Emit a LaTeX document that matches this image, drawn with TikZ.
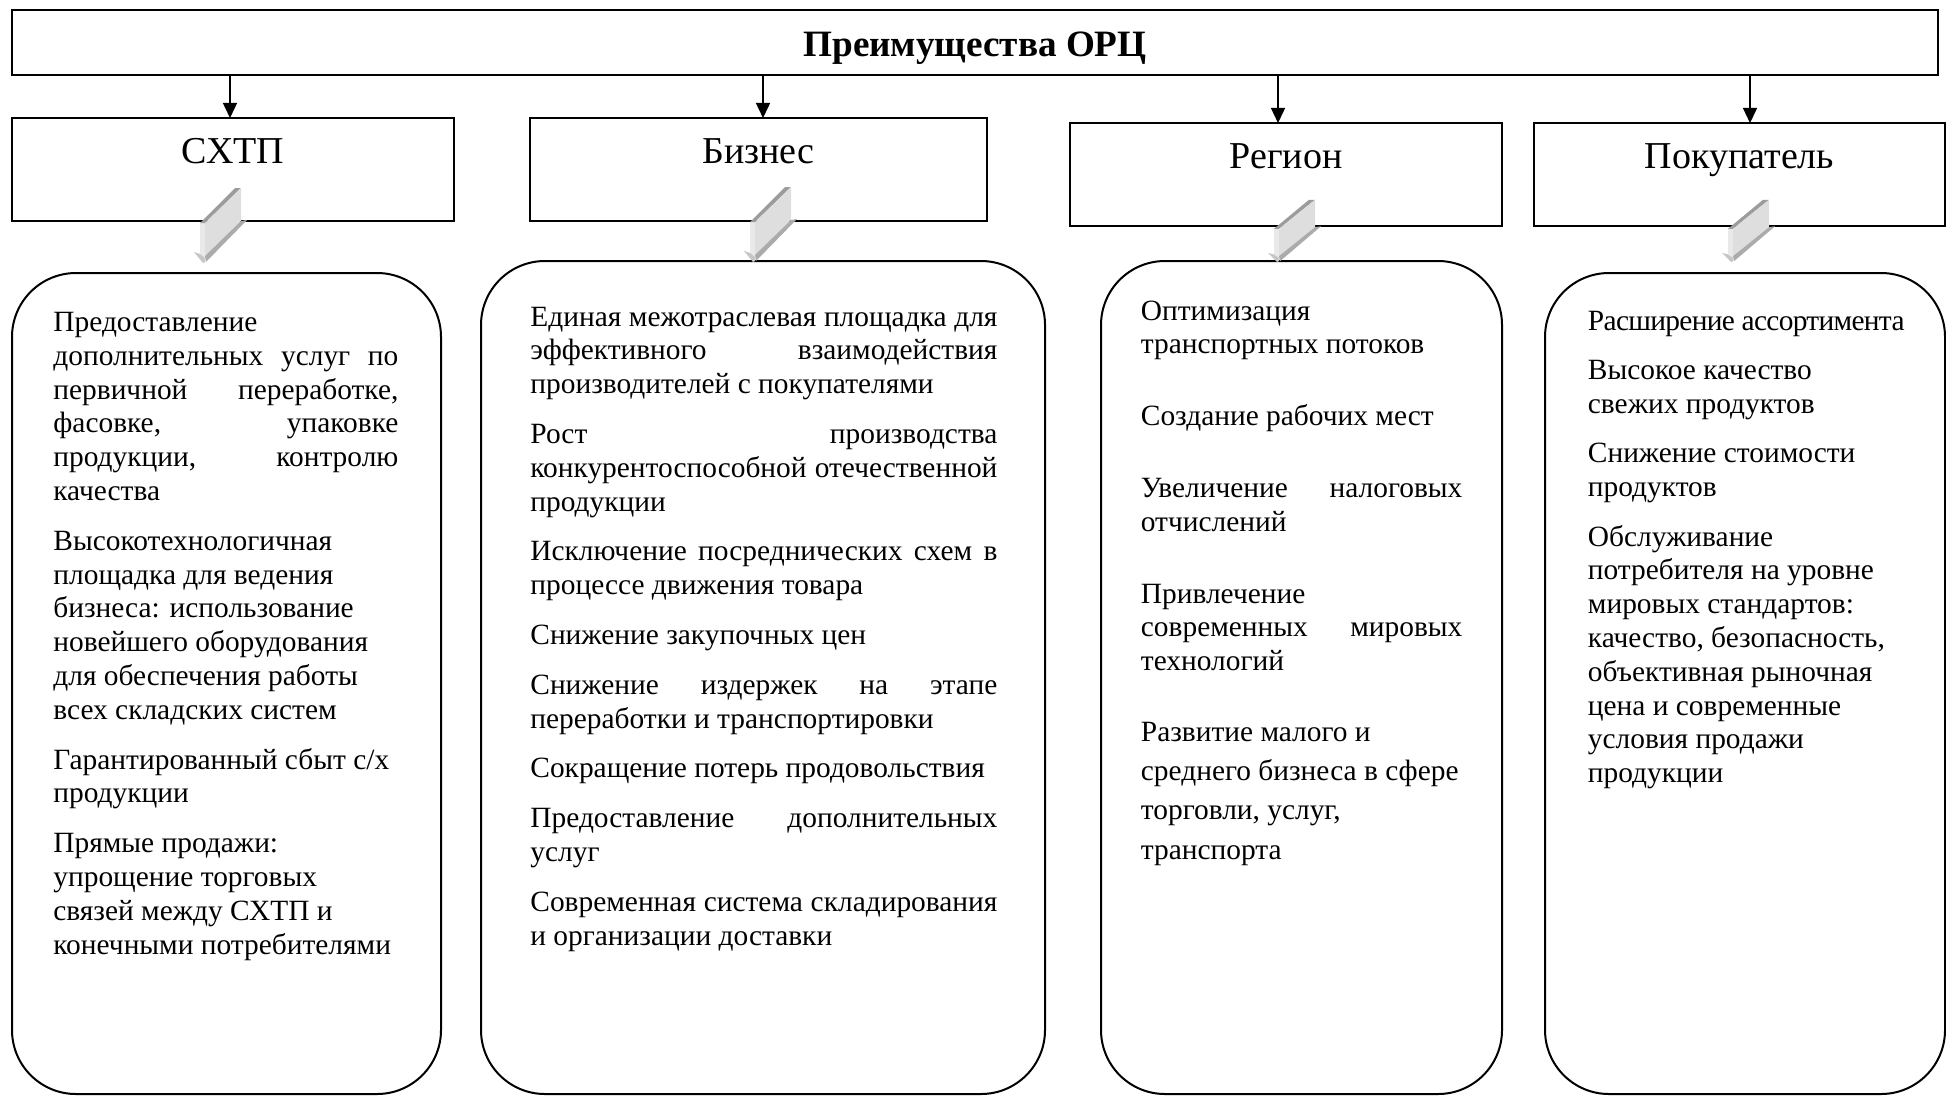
\documentclass[tikz,border=0pt]{standalone}
\usepackage{fontspec}
\setmainfont{Liberation Serif}
\usetikzlibrary{arrows.meta}

\definecolor{arrtop}{HTML}{9C9C9C}
\definecolor{arrfront}{HTML}{DEDEDE}
\definecolor{arrleft}{HTML}{E9E9E9}
\definecolor{arrside}{HTML}{ABABAB}
\definecolor{arrhead}{HTML}{C6C6C6}

\tikzset{
	box/.style={draw, line width=1pt, inner sep=0pt},
	hdrbox/.style={box, minimum height=51.5pt, text height=13pt, text depth=19.5pt,
		font=\fontsize{19}{22}\selectfont},
	rbox/.style={box, rounded corners=32pt},
	txt/.style={anchor=base west, inner sep=0pt, align=justify,
		font=\fontsize{14.7}{16.9}\selectfont},
	arr/.style={-{Triangle[length=7.5pt,width=7pt]}, line width=0.7pt},
	grayarrow/.pic={
		\fill[arrleft] (-3,-40) -- (2,-40) -- (2,-5) -- (-3,-9) -- cycle;
		\fill[arrtop] (-3,-40) -- (32,-75) -- (38,-75) -- (2,-40) -- cycle;
		\fill[arrfront] (2,-40) -- (38,-75) -- (38,-42) -- (2,-7) -- cycle;
		\fill[arrside] (38,-42) -- (44,-43) -- (3,-1) -- (2,-7) -- cycle;
		\fill[arrhead] (-9,-11) -- (-3,-9) -- (2,-5) -- (2,-1) -- (0,0) -- cycle;
	}
}

\begin{document}
\begin{tikzpicture}[x=0.5pt,y=-0.5pt]
	\useasboundingbox (0,0) rectangle (1946,1097);
	\clip (0,0) rectangle (1946,1097);
	% заголовок
	\node[box, minimum width=963pt, minimum height=32.5pt, text height=14.2pt, text depth=0pt,
		font=\fontsize{18.6}{22}\selectfont\bfseries] (title) at (975,42.5) {Преимущества ОРЦ};
	% группы
	\node[hdrbox, minimum width=221pt] (sxtp) at (233,169.5) {СХТП};
	\node[hdrbox, minimum width=228.5pt] (biz) at (758.5,169.5) {Бизнес};
	\node[hdrbox, minimum width=216pt] (reg) at (1286,174.5) {Регион};
	\node[hdrbox, minimum width=205.5pt] (buy) at (1739.5,174.5) {Покупатель};
	\coordinate (a1) at (230,118);
	\coordinate (a2) at (763,118);
	\coordinate (a3) at (1278,123);
	\coordinate (a4) at (1750,123);
	\foreach \i in {1,...,4}
		\draw[arr] (title.south -| a\i) -- (a\i);
	% блоки
	\node[rbox, minimum width=214.5pt, minimum height=410.5pt] (rb1) at (226.5,683.5) {};
	\node[rbox, minimum width=282pt, minimum height=416.5pt] (rb2) at (763,677.5) {};
	\node[rbox, minimum width=200.5pt, minimum height=416.5pt] (rb3) at (1301.5,677.5) {};
	\node[rbox, minimum width=200pt, minimum height=410.5pt] (rb4) at (1745,683.5) {};
	% серые стрелки
	\pic at (203,263) {grayarrow};
	\pic at (753,262) {grayarrow};
	\pic[yscale=0.83] at (1277,262) {grayarrow};
	\pic[yscale=0.83] at (1731,262) {grayarrow};
	% тексты
	\node[txt, text width=172.5pt] (t1) at (53,331.5) {\setlength{\parskip}{8pt}%
		Предоставление\linebreak дополнительных услуг по\linebreak первичной переработке,\linebreak
		фасовке, упаковке\linebreak продукции, контролю\linebreak качества\par
		Высокотехнологичная\newline площадка для ведения\newline бизнеса: использование\newline
		новейшего оборудования\newline для обеспечения работы\newline всех складских систем\par
		Гарантированный сбыт с/х\newline продукции\par
		Прямые продажи:\newline упрощение торговых\newline связей между СХТП и\newline
		конечными потребителями};
	\node[txt, text width=233.5pt] (t2) at (530,326) {\setlength{\parskip}{8pt}%
		Единая межотраслевая площадка для\linebreak эффективного взаимодействия\linebreak
		производителей с покупателями\par
		Рост производства\linebreak конкурентоспособной отечественной\linebreak продукции\par
		Исключение посреднических схем в\linebreak процессе движения товара\par
		Снижение закупочных цен\par
		Снижение издержек на этапе\linebreak переработки и транспортировки\par
		Сокращение потерь продовольствия\par
		Предоставление дополнительных\linebreak услуг\par
		Современная система складирования\linebreak и организации доставки};
	\node[txt, text width=160.75pt] (t3) at (1140.5,320) {\setlength{\parskip}{19pt}%
		Оптимизация\newline транспортных потоков\par
		Создание рабочих мест\par
		Увеличение налоговых\linebreak отчислений\par
		Привлечение\newline современных мировых\linebreak технологий\par
		\vspace{-3.35pt}%
		{\fontsize{14.7}{19.65}\selectfont Развитие малого и\newline среднего бизнеса в сфере\newline
		торговли, услуг,\newline транспорта\par}};
	\node[txt, text width=170pt] (t4) at (1587.5,330.5) {\setlength{\parskip}{7.75pt}%
		{\addfontfeature{LetterSpace=-2.3}Расширение ассортимента}\par
		Высокое качество\newline свежих продуктов\par
		Снижение стоимости\newline продуктов\par
		Обслуживание\newline потребителя на уровне\newline мировых стандартов:\newline
		качество, безопасность,\newline объективная рыночная\newline цена и современные\newline
		условия продажи\newline продукции};
\end{tikzpicture}
\end{document}
